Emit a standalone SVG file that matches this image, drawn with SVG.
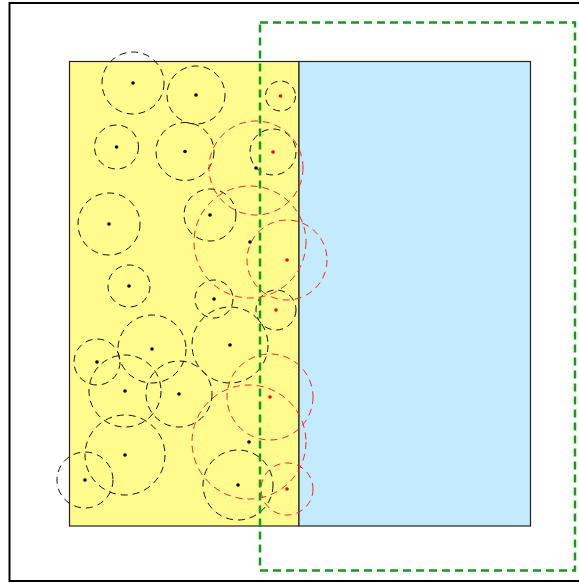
<svg xmlns="http://www.w3.org/2000/svg" width="579" height="583" viewBox="0 0 579 583">
<style>
.frame{fill:#fff;stroke:#000;stroke-width:2}
.yel{fill:#fffb8c;stroke:#222;stroke-width:1.2}
.blu{fill:#c3eafd;stroke:#222;stroke-width:1.2}
.bc{fill:none;stroke:#111;stroke-width:1;stroke-dasharray:7 5}
.rc{fill:none;stroke:#f22;stroke-width:1;stroke-dasharray:7 5}
.bd{fill:#000}
.rd{fill:#f00}
.grn{fill:none;stroke:#17991a;stroke-width:2.5;stroke-dasharray:8 5}
</style>
<rect class="frame" x="9.5" y="3" width="575" height="578"/>
<g id="regions">
<rect id="left-region" class="yel" x="69.5" y="61.5" width="229.5" height="464.5"/>
<rect id="right-region" class="blu" x="299" y="61.5" width="231.5" height="464.5"/>
</g>
<g id="black-nodes">
<g id="n1"><circle class="bc" cx="133" cy="83" r="31"/><circle class="bd" cx="133" cy="83" r="1.8"/></g>
<g id="n2"><circle class="bc" cx="196" cy="95" r="29"/><circle class="bd" cx="196" cy="95" r="1.8"/></g>
<g id="n3"><circle class="bc" cx="116.5" cy="147" r="22"/><circle class="bd" cx="116.5" cy="147" r="1.8"/></g>
<g id="n4"><circle class="bc" cx="185" cy="151.5" r="29"/><circle class="bd" cx="185" cy="151.5" r="1.8"/></g>
<g id="n5"><circle class="bc" cx="210" cy="215" r="26"/><circle class="bd" cx="210" cy="215" r="1.8"/></g>
<g id="n6"><circle class="bc" cx="109" cy="224" r="31"/><circle class="bd" cx="109" cy="224" r="1.8"/></g>
<g id="n7"><circle class="bc" cx="129" cy="286" r="21"/><circle class="bd" cx="129" cy="286" r="1.8"/></g>
<g id="n8"><circle class="bc" cx="214" cy="299" r="19"/><circle class="bd" cx="214" cy="299" r="1.8"/></g>
<g id="n9"><circle class="bc" cx="230" cy="345" r="38"/><circle class="bd" cx="230" cy="345" r="1.8"/></g>
<g id="n10"><circle class="bc" cx="152" cy="349" r="34"/><circle class="bd" cx="152" cy="349" r="1.8"/></g>
<g id="n11"><circle class="bc" cx="97" cy="362" r="23"/><circle class="bd" cx="97" cy="362" r="1.8"/></g>
<g id="n12"><circle class="bc" cx="125" cy="391" r="36"/><circle class="bd" cx="125" cy="391" r="1.8"/></g>
<g id="n13"><circle class="bc" cx="179" cy="394" r="33"/><circle class="bd" cx="179" cy="394" r="1.8"/></g>
<g id="n14"><circle class="bc" cx="125" cy="455" r="40"/><circle class="bd" cx="125" cy="455" r="1.8"/></g>
<g id="n15"><circle class="bc" cx="85" cy="480" r="28"/><circle class="bd" cx="85" cy="480" r="1.8"/></g>
<g id="n16"><circle class="bc" cx="238" cy="485" r="35"/><circle class="bd" cx="238" cy="485" r="1.8"/></g>
<g id="n17"><circle class="bc" cx="280.5" cy="96" r="15"/><circle class="rd" cx="280.5" cy="96" r="1.8"/></g>
<g id="n18"><circle class="bc" cx="273" cy="152" r="23"/><circle class="rd" cx="273" cy="152" r="1.8"/></g>
<g id="n19"><circle class="bc" cx="276" cy="310" r="20"/><circle class="rd" cx="276" cy="310" r="1.8"/></g>
</g>
<g id="red-nodes">
<g id="n20"><circle class="rc" cx="256" cy="168" r="47"/><circle class="bd" cx="256" cy="168" r="1.8"/></g>
<g id="n21"><circle class="rc" cx="250" cy="242" r="56"/><circle class="bd" cx="250" cy="242" r="1.8"/></g>
<g id="n22"><circle class="rc" cx="249" cy="442" r="57"/><circle class="bd" cx="249" cy="442" r="1.8"/></g>
<g id="n23"><circle class="rc" cx="287" cy="260" r="40"/><circle class="rd" cx="287" cy="260" r="1.8"/></g>
<g id="n24"><circle class="rc" cx="270" cy="397" r="43"/><circle class="rd" cx="270" cy="397" r="1.8"/></g>
<g id="n25"><circle class="rc" cx="287" cy="489" r="26"/><circle class="rd" cx="287" cy="489" r="1.8"/></g>
</g>
<g id="connectors"></g>
<rect id="window" class="grn" x="260" y="22.5" width="315" height="548"/>
</svg>
